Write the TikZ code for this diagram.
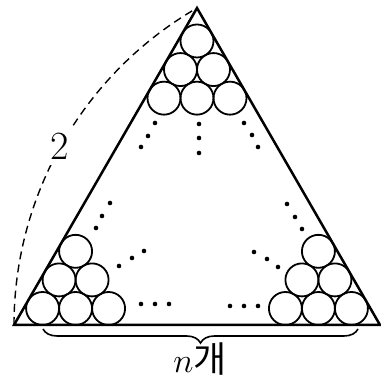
\documentclass[tikz,border=0pt]{standalone}
\usepackage{fontspec}
\newfontfamily\krfont{Noto Sans CJK KR}
\usetikzlibrary{decorations.pathreplacing}
\begin{document}
\begin{tikzpicture}[x=0.5pt,y=0.5pt,
  tri/.style={line width=1.25pt},
  ball/.style={line width=0.9pt},
  dotm/.style={fill=black},
  arcline/.style={line width=0.7pt,dash pattern=on 4pt off 2.6pt},
  lbl/.style={font=\fontsize{20}{24}\selectfont,fill=white,inner sep=3pt}]
\useasboundingbox (0,0) rectangle (381,378);
\coordinate (L) at (14,53);
\coordinate (R) at (380,53);
\coordinate (A) at (197,369.97);
% dashed arc centred at R
\draw[arcline] (L) arc[start angle=180,end angle=120,radius=366];
\node[lbl] (two) at (60,232) {2};
% triangle
\draw[tri,line join=miter] (L) -- (R) -- (A) -- cycle;
% circles
\def\r{16.5}
\foreach \k/\n in {0/3,1/2,2/1}{
  \foreach \j in {1,...,\n}{
    \draw[ball] ({42.58+\r*\k+2*\r*(\j-1)},{69.5+28.58*\k}) circle[radius=\r];
    \draw[ball] ({351.42-\r*\k-2*\r*(\j-1)},{69.5+28.58*\k}) circle[radius=\r];
  }
}
\foreach \m in {0,1,2}{
  \foreach \j in {0,...,\m}{
    \draw[ball] ({197-\r*\m+2*\r*\j},{337-28.58*\m}) circle[radius=\r];
  }
}
% dots
\foreach \p in {(199,254),(199,240),(199,225),
  (155,255),(148,242),(141,231),
  (244,255),(252,243),(258,231),
  (110,175),(102,162),(96,150),
  (287,174),(295,161),(302,149),
  (119,112),(132,120),(144,127),
  (254,126),(267,119),(278,111),
  (141,74),(155,74),(169,74),
  (230,72),(244,72),(258,72)}{
  \fill[dotm] \p circle[radius=2.3];
}
% brace
\coordinate (b1) at (43,49);
\coordinate (b2) at (358,49);
\draw[line width=0.8pt,decorate,decoration={brace,mirror,amplitude=7pt}] (b1) -- (b2);
\node[font=\fontsize{18}{21}\selectfont] (lab) at (200,19) {$n$\krfont 개};
\end{tikzpicture}
\end{document}
